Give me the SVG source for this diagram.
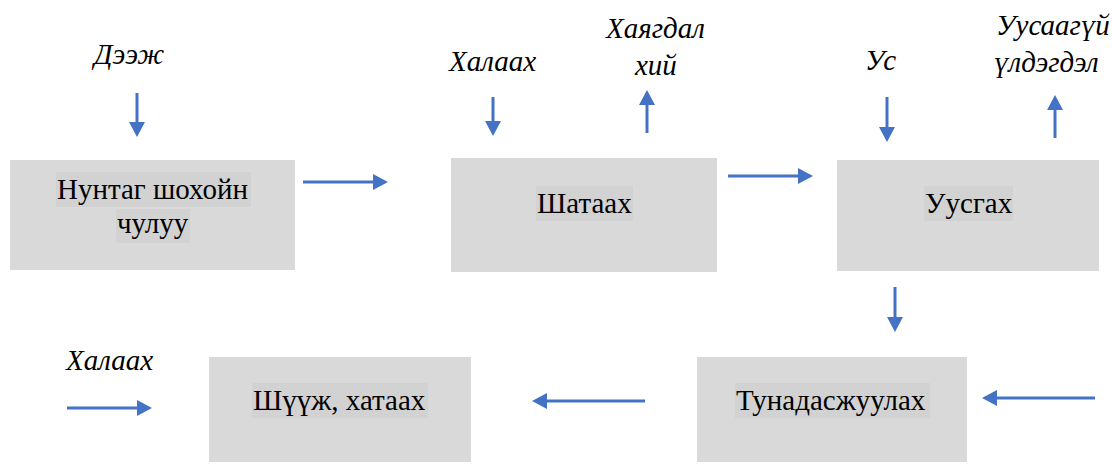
<svg xmlns="http://www.w3.org/2000/svg" width="1112" height="464" viewBox="0 0 1112 464">
  <defs>
    <marker id="head" markerUnits="userSpaceOnUse" markerWidth="16" markerHeight="16" refX="0" refY="8" orient="auto" viewBox="0 0 16 16">
      <path d="M0,0 L15,8 L0,16 z" fill="#4472c4"/>
    </marker>
  </defs>

  <rect width="1112" height="464" fill="#fff"/>

  <!-- process steps -->
  <g id="grinding">
    <rect fill="#d9d9d9" x="10" y="160" width="285" height="110"/>
    <rect fill="#d2d2d2" x="56" y="172" width="195" height="35"/>
    <rect fill="#d2d2d2" x="116" y="209" width="74" height="34"/>
    <text x="57" y="199" font-family="Liberation Serif" font-size="29">Нунтаг шохойн</text>
    <text x="117" y="233" font-family="Liberation Serif" font-size="29">чулуу</text>
  </g>
  <g id="burning">
    <rect fill="#d9d9d9" x="451" y="158" width="266" height="114"/>
    <rect fill="#d2d2d2" x="536" y="186" width="97" height="35"/>
    <text x="537" y="213" font-family="Liberation Serif" font-size="29">Шатаах</text>
  </g>
  <g id="dissolving">
    <rect fill="#d9d9d9" x="837" y="160" width="262" height="111"/>
    <rect fill="#d2d2d2" x="924" y="186" width="89" height="35"/>
    <text x="925" y="213" font-family="Liberation Serif" font-size="29">Уусгах</text>
  </g>
  <g id="precipitation">
    <rect fill="#d9d9d9" x="697" y="357" width="270" height="105"/>
    <rect fill="#d2d2d2" x="735" y="383" width="195" height="35"/>
    <text x="736" y="410" font-family="Liberation Serif" font-size="29">Тунадасжуулах</text>
  </g>
  <g id="filter-dry">
    <rect fill="#d9d9d9" x="209" y="357" width="262" height="105"/>
    <rect fill="#d2d2d2" x="252" y="383" width="176" height="35"/>
    <text x="253" y="410" font-family="Liberation Serif" font-size="29">Шүүж, хатаах</text>
  </g>

  <!-- inputs and outputs -->
  <g id="labels">
    <text x="94" y="64" font-family="Liberation Serif" font-size="29" font-style="italic">Дээж</text>
    <text x="449" y="71" font-family="Liberation Serif" font-size="29" font-style="italic">Халаах</text>
    <text x="606" y="38" font-family="Liberation Serif" font-size="29" font-style="italic">Хаягдал</text>
    <text x="635" y="75" font-family="Liberation Serif" font-size="29" font-style="italic">хий</text>
    <text x="865" y="70" font-family="Liberation Serif" font-size="29" font-style="italic">Ус</text>
    <text x="996" y="35" font-family="Liberation Serif" font-size="29" font-style="italic">Уусаагүй</text>
    <text x="994" y="72" font-family="Liberation Serif" font-size="29" font-style="italic">үлдэгдэл</text>
    <text x="66" y="370" font-family="Liberation Serif" font-size="29" font-style="italic">Халаах</text>
  </g>

  <!-- connectors (each line ends at the arrowhead base) -->
  <g id="connectors" stroke="#4472c4" stroke-width="3" fill="none" marker-end="url(#head)">
    <line x1="137" y1="93" x2="137" y2="122"/>
    <line x1="303" y1="182" x2="373" y2="182"/>
    <line x1="493" y1="97" x2="493" y2="121"/>
    <line x1="647" y1="133" x2="647" y2="105"/>
    <line x1="728" y1="176" x2="798" y2="176"/>
    <line x1="887" y1="97" x2="887" y2="127"/>
    <line x1="1055" y1="138" x2="1055" y2="110"/>
    <line x1="895" y1="287" x2="895" y2="317"/>
    <line x1="1095" y1="398" x2="997" y2="398"/>
    <line x1="645" y1="401" x2="547" y2="401"/>
    <line x1="67" y1="408" x2="137" y2="408"/>
  </g>
</svg>
